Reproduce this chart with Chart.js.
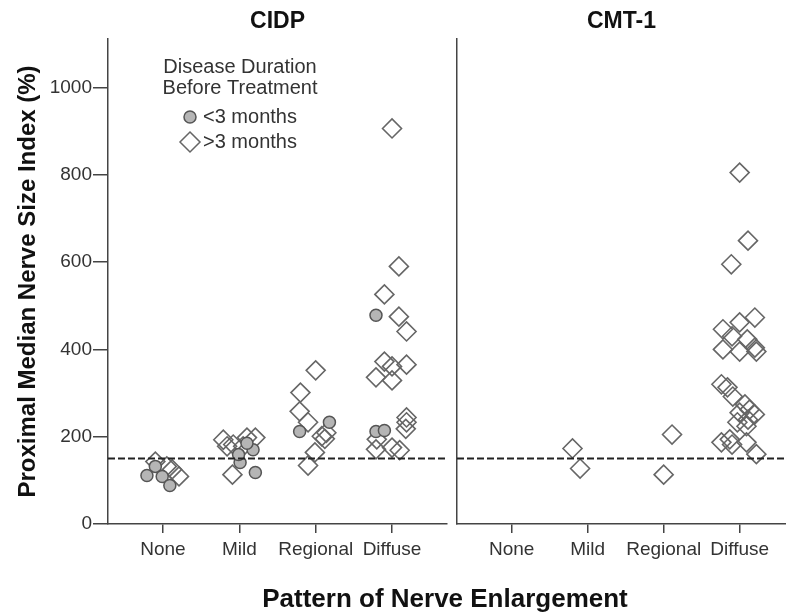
<!DOCTYPE html>
<html>
<head>
<meta charset="utf-8">
<script src="https://cdn.jsdelivr.net/npm/chart.js@4.4.1/dist/chart.umd.min.js"></script>
<style>
body { margin: 0; background: #fff; }
#wrap { position: relative; width: 786px; height: 616px; }
canvas { position: absolute; top: 0; }
#left { left: 0; }
#right { left: 452px; }
#xtitle {
    position: absolute; left: 105px; width: 680px; top: 583px;
    text-align: center; line-height: 30px; color: #111;
    font: bold 26px "Liberation Sans", Arial, sans-serif;
}
</style>
</head>
<body>
<div id="wrap">
    <canvas id="left" width="452" height="616"></canvas>
    <canvas id="right" width="334" height="616"></canvas>
    <div id="xtitle">Pattern of Nerve Enlargement</div>
</div>
<script>
const categories = ["None", "Mild", "Regional", "Diffuse"];
const yTicks = [0, 200, 400, 600, 800, 1000];
const cutoff = 150;
const legendTitle = ["Disease Duration", "Before Treatment"];
const legendItems = ["<3 months", ">3 months"];

// [category index, jitter, size index %]
const cidpUnder3 = [
    [0, -0.21, 111], [0, -0.10, 132], [0, -0.01, 109], [0, 0.09, 88],
    [1, 0.01, 141], [1, 0.21, 118], [1, 0.18, 170], [1, 0.10, 185], [1, -0.01, 159],
    [2, -0.21, 212], [2, 0.18, 233],
    [3, -0.21, 478], [3, -0.21, 212], [3, -0.10, 214],
];
const cidpOver3 = [
    [0, -0.10, 143], [0, 0.05, 132], [0, 0.21, 109], [0, 0.12, 125],
    [1, -0.21, 193], [1, -0.16, 178], [1, -0.08, 182], [1, 0.10, 198], [1, 0.21, 198],
    [1, 0.05, 178], [1, -0.09, 113],
    [2, 0.00, 352], [2, -0.20, 301], [2, -0.21, 258], [2, -0.10, 233], [2, 0.08, 201],
    [2, 0.14, 209], [2, -0.01, 164], [2, -0.10, 134], [2, 0.12, 195],
    [3, 0.00, 906], [3, 0.09, 590], [3, -0.10, 526], [3, 0.09, 475], [3, 0.19, 441],
    [3, -0.10, 372], [3, 0.00, 361], [3, 0.19, 365], [3, -0.21, 336], [3, 0.00, 329],
    [3, 0.19, 244], [3, 0.19, 233], [3, 0.18, 218], [3, -0.20, 194], [3, -0.21, 171],
    [3, 0.00, 175], [3, 0.10, 169],
];
const cmtUnder3 = [];
const cmtOver3 = [
    [1, -0.20, 173], [1, -0.10, 127],
    [2, 0.11, 205], [2, 0.00, 113],
    [3, 0.00, 805], [3, 0.11, 649], [3, -0.11, 595], [3, -0.22, 446], [3, 0.00, 462],
    [3, 0.20, 473], [3, -0.10, 430], [3, -0.22, 400], [3, 0.00, 395], [3, 0.20, 404],
    [3, 0.22, 395], [3, 0.10, 423], [3, -0.24, 320], [3, -0.16, 313], [3, -0.09, 292],
    [3, 0.07, 274], [3, 0.13, 262], [3, 0.00, 255], [3, 0.20, 251], [3, 0.11, 239],
    [3, -0.03, 233], [3, 0.09, 224], [3, -0.24, 187], [3, -0.13, 194], [3, -0.10, 182],
    [3, 0.09, 187], [3, 0.22, 160],
];

const FONT = '"Liberation Sans", Arial, sans-serif';
Chart.defaults.font.family = FONT;
Chart.defaults.color = "#333";

const toPoints = (arr) => arr.map(p => ({ x: p[0] + p[1], y: p[2] }));

// legend drawn inside the CIDP panel
const legendBox = {
    id: "legendBox",
    afterDraw(chart, args, opts) {
        if (!opts.show) return;
        const ctx = chart.ctx;
        ctx.save();
        ctx.font = "20px " + FONT;
        ctx.fillStyle = "#333";
        ctx.textAlign = "center";
        ctx.textBaseline = "middle";
        ctx.fillText(legendTitle[0], 240, 67);
        ctx.fillText(legendTitle[1], 240, 88);
        ctx.textAlign = "left";
        ctx.fillText(legendItems[0], 203, 117);
        ctx.fillText(legendItems[1], 203, 142);
        // circle
        ctx.beginPath();
        ctx.arc(190, 117, 6, 0, Math.PI * 2);
        ctx.fillStyle = "#b5b5b5";
        ctx.fill();
        ctx.lineWidth = 1.5;
        ctx.strokeStyle = "#555";
        ctx.stroke();
        // diamond
        ctx.beginPath();
        ctx.moveTo(190, 132); ctx.lineTo(200, 142); ctx.lineTo(190, 152); ctx.lineTo(180, 142);
        ctx.closePath();
        ctx.strokeStyle = "#666";
        ctx.stroke();
        ctx.restore();
    }
};

function makePanel(id, title, under, over, xmax, isLeft) {
    return new Chart(document.getElementById(id), {
        type: "scatter",
        data: {
            datasets: [
                {
                    type: "line",
                    data: [{ x: -0.72, y: cutoff }, { x: xmax, y: cutoff }],
                    borderColor: "#222",
                    borderWidth: 2,
                    borderDash: [7, 3],
                    pointRadius: 0,
                    order: 0,
                },
                {
                    label: legendItems[0],
                    data: toPoints(under),
                    pointStyle: "circle",
                    pointRadius: 6,
                    backgroundColor: "#b5b5b5",
                    borderColor: "#555",
                    borderWidth: 1.5,
                    order: 1,
                },
                {
                    label: legendItems[1],
                    data: toPoints(over),
                    pointStyle: "rectRot",
                    pointRadius: 9.5,
                    backgroundColor: "rgba(0,0,0,0)",
                    borderColor: "#666",
                    borderWidth: 1.6,
                    order: 1,
                },
            ],
        },
        options: {
            responsive: false,
            animation: false,
            events: [],
            layout: { autoPadding: false, padding: { left: 0, right: isLeft ? 5 : 0, top: 0, bottom: 0 } },
            plugins: {
                legend: { display: false },
                tooltip: { enabled: false },
                title: {
                    display: true,
                    text: title,
                    fullSize: false,
                    color: "#111",
                    font: { size: 23, weight: "bold" },
                    padding: { top: 8, bottom: 3.4 },
                },
                legendBox: { show: isLeft },
            },
            scales: {
                x: {
                    type: "linear",
                    min: -0.72,
                    max: xmax,
                    afterBuildTicks: (s) => { s.ticks = categories.map((c, i) => ({ value: i })); },
                    afterFit: (s) => { s.height = 92; },
                    ticks: {
                        callback: (v) => categories[v],
                        font: { size: 19 },
                        padding: 5,
                        maxRotation: 0,
                        autoSkip: false,
                    },
                    grid: { drawOnChartArea: false, tickLength: 9, color: "#444", lineWidth: 1.5 },
                    border: { color: "#444", width: 1.5 },
                },
                y: {
                    min: 0,
                    max: 1111,
                    afterBuildTicks: (s) => { s.ticks = yTicks.map(v => ({ value: v })); },
                    afterFit: (s) => { s.width = isLeft ? 108 : 5; },
                    ticks: { display: isLeft, callback: (v) => String(v), font: { size: 19 }, padding: 1 },
                    grid: { drawOnChartArea: false, drawTicks: isLeft, tickLength: 15, color: "#444", lineWidth: 1.5 },
                    border: { color: "#444", width: 1.5 },
                    title: {
                        display: isLeft,
                        text: "Proximal Median Nerve Size Index (%)",
                        color: "#111",
                        font: { size: 24, weight: "bold" },
                        padding: { top: 14, bottom: 0 },
                    },
                },
            },
        },
        plugins: [legendBox],
    });
}

makePanel("left", "CIDP", cidpUnder3, cidpOver3, 3.72, true);
makePanel("right", "CMT-1", cmtUnder3, cmtOver3, 3.61, false);
</script>
</body>
</html>
